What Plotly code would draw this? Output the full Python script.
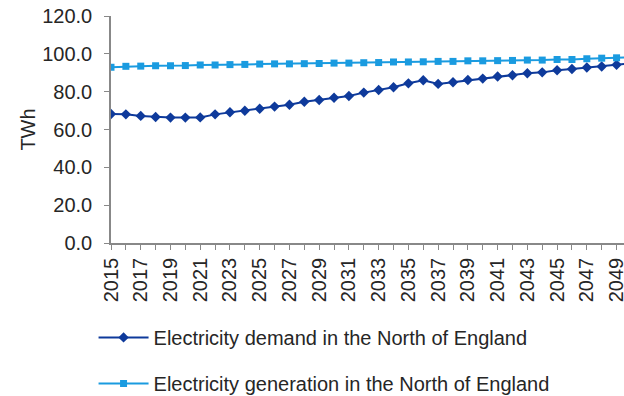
import plotly.graph_objects as go

years = list(range(2015, 2051))
demand = [68.2, 68.0, 67.2, 66.6, 66.3, 66.3, 66.4, 68.0, 69.1, 69.9, 71.0, 72.1,
          73.1, 74.7, 75.6, 76.8, 77.7, 79.5, 80.9, 82.3, 84.4, 86.0, 84.1, 85.0,
          86.2, 86.9, 88.0, 88.7, 89.7, 90.2, 91.3, 92.0, 92.8, 93.3, 94.2, 95.0]
generation = [92.9, 93.4, 93.5, 93.7, 93.7, 93.8, 94.1, 94.1, 94.3, 94.4, 94.6, 94.7,
              94.7, 94.8, 94.9, 95.1, 95.1, 95.3, 95.4, 95.7, 95.7, 95.8, 96.0, 96.0,
              96.3, 96.3, 96.4, 96.5, 96.7, 96.7, 97.0, 97.0, 97.4, 97.7, 97.9, 98.2]

names = ["Electricity demand in the North of England",
         "Electricity generation in the North of England"]
colors = ["#0E3A9B", "#1A9BE0"]

FONT = "Liberation Sans, Arial, sans-serif"
FS = 20
TXT = "#262626"

fig = go.Figure()
fig.add_trace(go.Scatter(x=years, y=demand, name=names[0], mode="lines+markers",
                         line=dict(color=colors[0], width=2),
                         marker=dict(symbol="diamond", size=8, color=colors[0]),
                         legendgroup="a", cliponaxis=True))
fig.add_trace(go.Scatter(x=years, y=generation, name=names[1], mode="lines+markers",
                         line=dict(color=colors[1], width=2),
                         marker=dict(symbol="square", size=7, color=colors[1]),
                         legendgroup="b", cliponaxis=True))

fig.update_layout(
    width=624, height=396,
    margin=dict(l=111, r=0, t=16, b=153, autoexpand=False),
    paper_bgcolor="white", plot_bgcolor="white",
    font=dict(family=FONT, size=FS, color=TXT),
    showlegend=True,
    legend=dict(x=-0.034, y=-0.33, xanchor="left", yanchor="top",
                orientation="v", traceorder="grouped", tracegroupgap=17,
                itemwidth=50, font=dict(size=FS, color=TXT),
                bgcolor="rgba(0,0,0,0)"),
    xaxis=dict(range=[2015, 2049.5], tickmode="linear", tick0=2015, dtick=2,
               tickangle=-90, ticks="outside", ticklen=5, tickcolor="#888888",
               showline=True, linecolor="#888888", linewidth=1.5,
               showgrid=False, zeroline=False, automargin=False,
               ticklabeloverflow="allow",
               minor=dict(dtick=1, ticks="outside", ticklen=5, tickcolor="#888888",
                          showgrid=False),
               tickfont=dict(size=FS, color=TXT)),
    yaxis=dict(range=[0, 120], tickmode="linear", tick0=0, dtick=20,
               tickformat=".1f", ticks="outside", ticklen=5, tickcolor="#888888",
               showline=True, linecolor="#888888", linewidth=1.5,
               showgrid=False, zeroline=False, automargin=False,
               ticklabeloverflow="allow", ticklabelstandoff=8,
               title=dict(text="TWh", font=dict(size=FS, color=TXT), standoff=1),
               tickfont=dict(size=FS, color=TXT)),
)

fig.write_html("out.html", config={"displayModeBar": False},
               post_script="document.body.style.margin='0';")
